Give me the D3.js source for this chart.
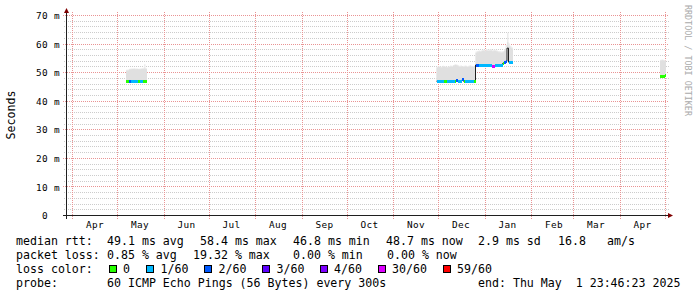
<!DOCTYPE html>
<html><head><meta charset="utf-8">
<script src="https://cdn.jsdelivr.net/npm/d3@7"></script>
<style>
html,body{margin:0;padding:0;background:#fff;}
svg{display:block;}
text{font-family:"DejaVu Sans Mono",monospace;white-space:pre;}
</style></head><body>
<svg id="chart" width="697" height="297"></svg>
<script>
// ---------- DATA ----------
const endTime = "2025-05-01T23:46:23Z";
const spanDays = 400;
const yTickValues = [0, 10, 20, 30, 40, 50, 60, 70];
const yMinorValues = [2,4,6,8,12,14,16,18,22,24,26,28,32,34,36,38,42,44,46,48,52,54,56,58,62,64,66,68];
const monthLabels = ["Apr","May","Jun","Jul","Aug","Sep","Oct","Nov","Dec","Jan","Feb","Mar","Apr"];

// daily samples, one array per measured stretch
const segmentStarts = ["2024-05-07", "2024-11-30", "2025-04-28"];
const medianMs = [
  [46.8,46.8,46.9,46.8,46.8,46.8,46.8,46.8,46.8,46.8,46.8,46.8,46.8,46.8],
  [46.8,46.8,46.8,46.8,46.9,46.8,46.8,46.8,46.8,46.9,46.8,46.8,46.8,47.1,46.8,46.8,46.9,47.3,46.8,46.8,46.8,46.8,46.9,46.8,46.8,46.8,
   52.5,52.3,52.2,52.2,52.2,52.2,52.2,52.2,52.3,52.2,52.2,52.1,52.1,52.2,52.2,52.2,52.2,52.3,53.0,53.5,53.8,
   58.4,53.5,53.4,53.4],
  [48.6,48.5,48.6,48.7]
];
const lossPings = [
  [0,0,2,1,1,1,1,1,0,1,1,0,0,0],
  [1,1,1,1,1,0,0,1,1,1,1,1,0,2,1,1,1,2,0,1,1,1,1,1,1,0,
   2,2,1,1,1,1,1,1,1,1,1,12,12,1,1,1,1,1,0,2,2,
   null,1,1,1],
  [0,0,0,0]
];
const smokeHighMs = [
  [50.5,50.6,50.9,51.0,51.1,51.1,51.0,51.1,51.0,51.0,51.1,51.1,51.3,51.1],
  [51.6,51.8,51.7,51.6,51.9,51.8,51.7,51.6,51.8,52.0,51.9,52.2,52.5,52.4,52.1,51.9,52.0,51.8,51.9,52.0,51.8,51.9,52.1,51.9,51.8,51.7,
   56.8,57.0,57.2,57.1,57.4,57.5,57.3,57.6,57.4,57.5,57.6,57.3,57.5,57.4,57.2,57.0,56.9,56.8,57.0,57.5,58.3,
   60.5,59.0,58.6,58.2],
  [54.0,54.2,54.1,53.9]
];
const smokeMaxMs = [
  [50.8,50.9,51.2,51.3,51.3,51.4,51.3,51.3,51.2,51.3,51.4,51.5,52.8,51.4],
  [51.9,52.1,52.0,51.9,52.2,52.1,52.0,51.9,52.1,52.3,52.2,52.5,52.8,52.7,52.4,52.2,52.3,52.1,52.2,52.3,52.1,52.2,52.4,52.2,52.1,52.0,
   57.2,57.4,57.6,57.5,57.8,57.9,57.7,58.0,57.8,57.9,58.0,57.7,57.9,57.8,57.6,57.4,57.3,57.2,57.4,58.0,59.5,
   63.8,60.0,59.2,58.6],
  [54.3,54.4,54.3,54.2]
];

const lossThresholds = [0, 1, 2, 3, 4, 30, 59];
const lossLabels = ["0", "1/60", "2/60", "3/60", "4/60", "30/60", "59/60"];
const lossColors = ["#26ff00", "#00b8ff", "#0059ff", "#5e00ff", "#7e00ff", "#dd00ff", "#ff0000"];

const legendRtt = ["median rtt:", "49.1 ms avg", "58.4 ms max", "46.8 ms min", "48.7 ms now", "2.9 ms sd", "16.8", "am/s"];
const legendLoss = ["packet loss:", "0.85 % avg", "19.32 % max", "0.00 % min", "0.00 % now"];
const legendProbe = ["probe:", "60 ICMP Echo Pings (56 Bytes) every 300s", "end: Thu May  1 23:46:23 2025"];

// ---------- LAYOUT ----------
const L = 66, R = 666, T = 15, B = 215;
const svg = d3.select("#chart");
svg.append("rect").attr("width",697).attr("height",297).attr("fill","#fff");

const end = new Date(endTime);
const start = d3.utcDay.offset(end, -spanDays);
const x = d3.scaleUtc().domain([start, end]).range([L, R]);
const y = d3.scaleLinear().domain([0, 70]).range([B, T]);
const py = v => Math.round(y(v)) + 0.5;

// grid
const grid = svg.append("g").attr("shape-rendering","crispEdges");
grid.selectAll("line.minor").data(yMinorValues).join("line")
  .attr("x1", L - 2).attr("x2", R + 3).attr("y1", py).attr("y2", py)
  .attr("stroke", "#cccccc").attr("stroke-dasharray", "1,1");
grid.selectAll("line.major").data(yTickValues.filter(v => v > 0)).join("line")
  .attr("x1", L - 3).attr("x2", R + 3).attr("y1", py).attr("y2", py)
  .attr("stroke", "#e99494").attr("stroke-dasharray", "1,1");
const monthStarts = d3.utcMonth.range(d3.utcMonth.ceil(start), end);
grid.selectAll("line.month").data(monthStarts).join("line")
  .attr("x1", d => Math.round(x(d)) + 0.5).attr("x2", d => Math.round(x(d)) + 0.5)
  .attr("y1", T - 3).attr("y2", B + 4)
  .attr("stroke", "#e99494").attr("stroke-dasharray", "1,1");

// data
svg.append("clipPath").attr("id","plot").append("rect")
  .attr("x", L).attr("y", T - 5).attr("width", R - L).attr("height", B - T + 5);
const plot = svg.append("g").attr("clip-path","url(#plot)");

function lossColor(l) {
  if (l === null || l === undefined) return null;
  for (let k = 0; k < lossThresholds.length; k++) if (l <= lossThresholds[k]) return lossColors[k];
  return null;
}

segmentStarts.forEach((s, si) => {
  const t0 = new Date(s + "T00:00:00Z");
  const samples = medianMs[si].map((m, i) => ({
    t: d3.utcDay.offset(t0, i), t1: d3.utcDay.offset(t0, i + 1),
    med: m, loss: lossPings[si][i], hi: smokeHighMs[si][i], mx: smokeMaxMs[si][i]
  }));
  const last = samples[samples.length - 1];
  const pts = samples.concat([Object.assign({}, last, {t: last.t1})]);
  const areaMax = d3.area().curve(d3.curveStepAfter).x(d => x(d.t)).y0(d => y(d.med)).y1(d => y(d.mx));
  const areaHi = d3.area().curve(d3.curveStepAfter).x(d => x(d.t)).y0(d => y(d.med)).y1(d => y(d.hi));
  plot.append("path").attr("d", areaMax(pts)).attr("fill", "#ececec");
  plot.append("path").attr("d", areaHi(pts)).attr("fill", "#e0e0e0");
  const line = d3.line().curve(d3.curveStepAfter).x(d => x(d.t)).y(d => y(d.med));
  plot.append("path").attr("d", line(pts)).attr("fill","none").attr("stroke","#202020").attr("stroke-width",1);
  plot.append("g").attr("shape-rendering","crispEdges").selectAll("rect")
    .data(samples.filter(d => lossColor(d.loss)))
    .join("rect")
    .attr("x", d => x(d.t)).attr("width", d => x(d.t1) - x(d.t))
    .attr("y", d => y(d.med) - 1.5).attr("height", 3)
    .attr("fill", d => lossColor(d.loss));
});

// axes lines
const ax = svg.append("g").attr("shape-rendering","crispEdges");
ax.append("line").attr("x1", L - 3).attr("x2", R + 2).attr("y1", B + 0.5).attr("y2", B + 0.5).attr("stroke","#1f1f1f");
ax.append("line").attr("x1", L + 0.5).attr("x2", L + 0.5).attr("y1", T - 2).attr("y2", B + 4).attr("stroke","#1f1f1f");
svg.append("path").attr("d", `M${L+0.5},${T-7} L${L+3},${T-2} L${L-2},${T-2} Z`).attr("fill","#800000");
svg.append("path").attr("d", `M${R+7},${B+0.5} L${R+2},${B-2} L${R+2},${B+3} Z`).attr("fill","#800000");

// y axis labels
const yAxis = d3.axisLeft(y).tickValues(yTickValues).tickSize(0).tickPadding(0)
  .tickFormat(d => d === 0 ? "0  " : d + " m");
const gy = svg.append("g").attr("transform", `translate(${L - 6},0)`).call(yAxis);
gy.select(".domain").remove();
gy.selectAll("text").attr("font-family","DejaVu Sans Mono").attr("font-size","9.4px")
  .attr("letter-spacing","0.35px").attr("fill","#000").attr("dy","0.38em");

// x axis labels (mid-month)
const midMonths = monthStarts.map(d => d3.utcDay.offset(d, 15)).filter(d => d > start && d < end);
const xAxis = d3.axisBottom(x).tickValues(midMonths).tickSize(0).tickPadding(0)
  .tickFormat((d, i) => monthLabels[i]);
const gx = svg.append("g").attr("transform", `translate(0,${B + 6})`).call(xAxis);
gx.select(".domain").remove();
gx.selectAll("text").attr("font-family","DejaVu Sans Mono").attr("font-size","9.4px")
  .attr("letter-spacing","0.35px").attr("fill","#000").attr("dy","0.75em");

// titles
svg.append("text").attr("transform", "translate(14.5,115) rotate(-90)")
  .attr("text-anchor","middle").attr("font-size","11.6px").attr("fill","#000").text("Seconds");
svg.append("text").attr("transform", "translate(685,5) rotate(90)")
  .attr("font-size","8.4px").attr("fill","#aaaaaa").text("RRDTOOL / TOBI OETIKER");

// legend
const fs = "11.6px";
const row1X = [16, 107, 200, 293, 386, 478, 558, 607];
legendRtt.forEach((t, i) => svg.append("text").attr("x", row1X[i]).attr("y", 245).attr("font-size", fs).text(t));
const row2X = [16, 107, 193, 293, 387];
legendLoss.forEach((t, i) => svg.append("text").attr("x", row2X[i]).attr("y", 259).attr("font-size", fs).text(t));
svg.append("text").attr("x", 16).attr("y", 273).attr("font-size", fs).text("loss color:");
const boxX = [109, 146, 203.5, 261.5, 319.5, 378, 442.5];
const labX = [123, 160.5, 218.5, 276.5, 334, 392, 457];
lossColors.forEach((c, i) => {
  svg.append("rect").attr("x", Math.round(boxX[i]) + 0.5).attr("y", 265.5).attr("width", 7).attr("height", 7)
    .attr("fill", c).attr("stroke", "#000").attr("shape-rendering","crispEdges");
  svg.append("text").attr("x", labX[i]).attr("y", 273).attr("font-size", fs).text(lossLabels[i]);
});
const row4X = [16, 107, 478];
legendProbe.forEach((t, i) => svg.append("text").attr("x", row4X[i]).attr("y", 287).attr("font-size", fs).text(t));
</script>
</body></html>
